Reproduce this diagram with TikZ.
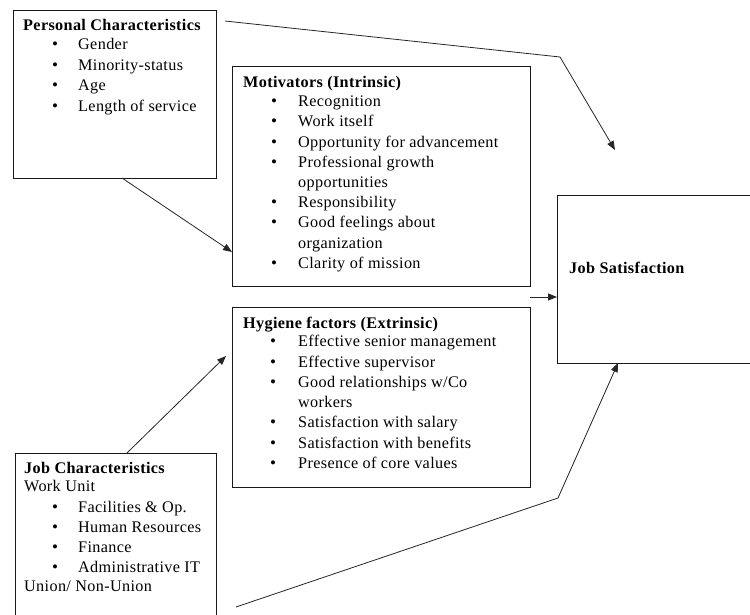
\documentclass[tikz,border=0pt]{standalone}
\usepackage{fontspec}
\setmainfont{Liberation Serif}[LetterSpace=2.2]
\usetikzlibrary{arrows.meta}
\newcommand\bitem[5]{\node[bul] (#1b) at (#2,#4) {\textbullet}; \node[txt] (#1) at (#3,#4) {#5};}
\begin{document}
\begin{tikzpicture}[x=1pt,y=-1pt,
 box/.style={draw=black!90, line width=0.9pt, rectangle, anchor=north west, inner sep=0pt, outer sep=0pt},
 txt/.style={anchor=base west, inner sep=0pt, font=\fontsize{16.2}{19}\selectfont},
 hd/.style={anchor=base west, inner sep=0pt, font=\fontsize{16.2}{19}\selectfont\bfseries},
 bul/.style={anchor=base, inner sep=0pt, font=\fontsize{17}{19}\selectfont},
 arr/.style={draw=black!85, line width=0.8pt, -{Triangle[length=9pt,width=7pt]}}]
\clip (0,0) rectangle (750,615);
\fill[white] (0,0) rectangle (750,615);
% boxes
\node[box, minimum width=203pt, minimum height=168pt] (pers) at (13,10) {};
\node[box, minimum width=298pt, minimum height=220pt] (mot) at (232,66) {};
\node[box, minimum width=298pt, minimum height=180pt] (hyg) at (232,307) {};
\node[box, minimum width=200pt, minimum height=168pt] (js) at (557,195) {};
\node[box, minimum width=201pt, minimum height=180pt] (jc) at (15,453) {};
% Personal
\node[hd] (persT) at (23,31) {Personal Characteristics};
\bitem{p1}{55}{78}{50}{Gender}
\bitem{p2}{55}{78}{70.5}{Minority-status}
\bitem{p3}{55}{78}{91}{Age}
\bitem{p4}{55}{78}{111.5}{Length of service}
% Motivators
\node[hd] (motT) at (243,88) {Motivators (Intrinsic)};
\bitem{m1}{274}{298}{106.7}{Recognition}
\bitem{m2}{274}{298}{126.9}{Work itself}
\bitem{m3}{274}{298}{147.1}{Opportunity for advancement}
\bitem{m4}{274}{298}{167.3}{Professional growth}
\node[txt] (m4b2) at (298,187.5) {opportunities};
\bitem{m5}{274}{298}{207.7}{Responsibility}
\bitem{m6}{274}{298}{227.9}{Good feelings about}
\node[txt] (m6b2) at (298,248.1) {organization};
\bitem{m7}{274}{298}{268.3}{Clarity of mission}
% Hygiene
\node[hd] (hygT) at (243,328.3) {Hygiene factors (Extrinsic)};
\bitem{h1}{273}{298}{346.7}{Effective senior management}
\bitem{h2}{273}{298}{367}{Effective supervisor}
\bitem{h3}{273}{298}{387.3}{Good relationships w/Co}
\node[txt] (h3b2) at (298,407.5) {workers};
\bitem{h4}{273}{298}{427.8}{Satisfaction with salary}
\bitem{h5}{273}{298}{448}{Satisfaction with benefits}
\bitem{h6}{273}{298}{468.3}{Presence of core values}
% Job characteristics
\node[hd] (jcT) at (24,473.3) {Job Characteristics};
\node[txt] (jcW) at (24,491.7) {Work Unit};
\bitem{j1}{55}{78}{512.7}{Facilities \& Op.}
\bitem{j2}{55}{78}{532.7}{Human Resources}
\bitem{j3}{55}{78}{552.7}{Finance}
\bitem{j4}{55}{78}{572.7}{Administrative IT}
\node[txt] (jcU) at (24,591.7) {Union/ Non-Union};
% Job satisfaction
\node[hd] (jsT) at (569,273.3) {Job Satisfaction};
% connectors
\coordinate (a1s) at (225,21);
\coordinate (a1m) at (560,57);
\coordinate (a1e) at (615,150);
\draw[arr] (a1s) -- (a1m) -- (a1e);
\draw[arr] ([xshift=109pt]pers.south west) -- ([yshift=-186pt]mot.north west);
\coordinate (a3s) at (530,297);
\draw[arr] (a3s) -- (a3s -| js.west);
\draw[arr] ([xshift=112pt]jc.north west) -- ([xshift=-6pt,yshift=-49pt]hyg.north west);
\coordinate (a5s) at (236,607);
\coordinate (a5m) at (558,498);
\draw[arr] (a5s) -- (a5m) -- ([xshift=61pt]js.south west);
\end{tikzpicture}
\end{document}
